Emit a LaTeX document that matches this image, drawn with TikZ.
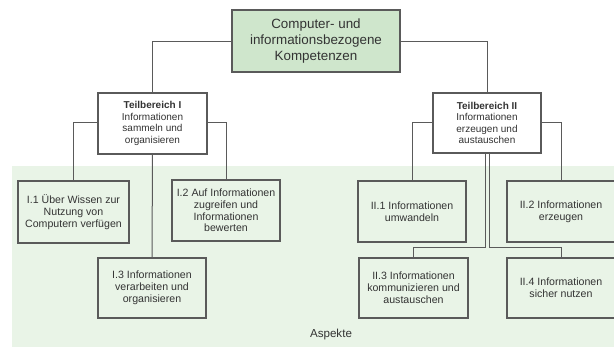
\documentclass[tikz,border=0pt]{standalone}
\usepackage{fontspec}
\setmainfont{Liberation Sans}
\usetikzlibrary{calc}
\definecolor{topfill}{HTML}{CFE6CC}
\definecolor{bgfill}{HTML}{E9F4E7}
\definecolor{edge}{HTML}{5A5A5A}
\definecolor{txt}{HTML}{333333}
\tikzset{
  topbox/.style={draw=edge, line width=1.2pt, fill=topfill, text=txt, align=center,
    minimum width=168pt, minimum height=62pt, inner sep=0pt,
    font=\fontsize{13.4}{16}\selectfont},
  areabox/.style={draw=edge, line width=1.2pt, fill=white, text=txt, align=center,
    minimum width=109pt, minimum height=61pt, inner sep=0pt,
    font=\fontsize{10}{11.5}\selectfont},
  aspbox/.style={draw=edge, line width=1.2pt, text=txt, align=center,
    minimum width=108pt, minimum height=61pt, inner sep=0pt,
    font=\fontsize{10.6}{11.8}\selectfont},
  conn/.style={draw=edge, line width=1pt}
}
\begin{document}
\begin{tikzpicture}[x=1pt,y=-1pt]
\useasboundingbox (0,0) rectangle (614,346);
\fill[bgfill] (12,166) rectangle (620,350);
\node[topbox] (top) at (316,41) {Computer- und\\informationsbezogene\\Kompetenzen};
\node[areabox] (tb1) at (152.5,123.5) {\textbf{Teilbereich I}\\Informationen\\sammeln und\\organisieren};
\node[areabox, minimum width=108pt, minimum height=60pt] (tb2) at (487,123) {\textbf{Teilbereich II}\\Informationen\\erzeugen und\\austauschen};
\node[aspbox, minimum width=111pt, minimum height=62pt] (i1) at (73.5,212) {I.1 Über Wissen zur\\Nutzung von\\Computern verfügen};
\node[aspbox] (i2) at (226,210.5) {I.2 Auf Informationen\\zugreifen und\\Informationen\\bewerten};
\node[aspbox, minimum height=60pt] (i3) at (152,288) {I.3 Informationen\\verarbeiten und\\organisieren};
\node[aspbox] (ii1) at (412,211.5) {II.1 Informationen\\umwandeln};
\node[aspbox] (ii2) at (561,211.5) {II.2 Informationen\\erzeugen};
\node[aspbox, minimum width=109pt, minimum height=60pt] (ii3) at (413.5,288) {II.3 Informationen\\kommunizieren und\\austauschen};
\node[aspbox, minimum height=60pt] (ii4) at (561,288) {II.4 Informationen\\sicher nutzen};
\node[text=txt, font=\fontsize{11.6}{14}\selectfont] (asp) at (331,334) {Aspekte};
% connectors
\draw[conn] (top.west) -| (tb1.north);
\draw[conn] (top.east) -| (tb2.north);
\draw[conn] ([yshift=1.5pt]tb1.west) -| (i1.north);
\draw[conn] ([yshift=1.5pt]tb1.east) -| (i2.north);
\draw[conn] (tb1.south) -- (i3.north);
\draw[conn] ([yshift=1pt]tb2.west) -| (ii1.north);
\draw[conn] ([yshift=1pt]tb2.east) -| (ii2.north);
\coordinate (j3) at ([yshift=10pt]ii3.north);
\coordinate (j4) at ([yshift=10pt]ii4.north);
\draw[conn] ([xshift=-2pt]tb2.south) |- (j3) -- (ii3.north);
\draw[conn] ([xshift=2.5pt]tb2.south) |- (j4) -- (ii4.north);
\end{tikzpicture}
\end{document}
